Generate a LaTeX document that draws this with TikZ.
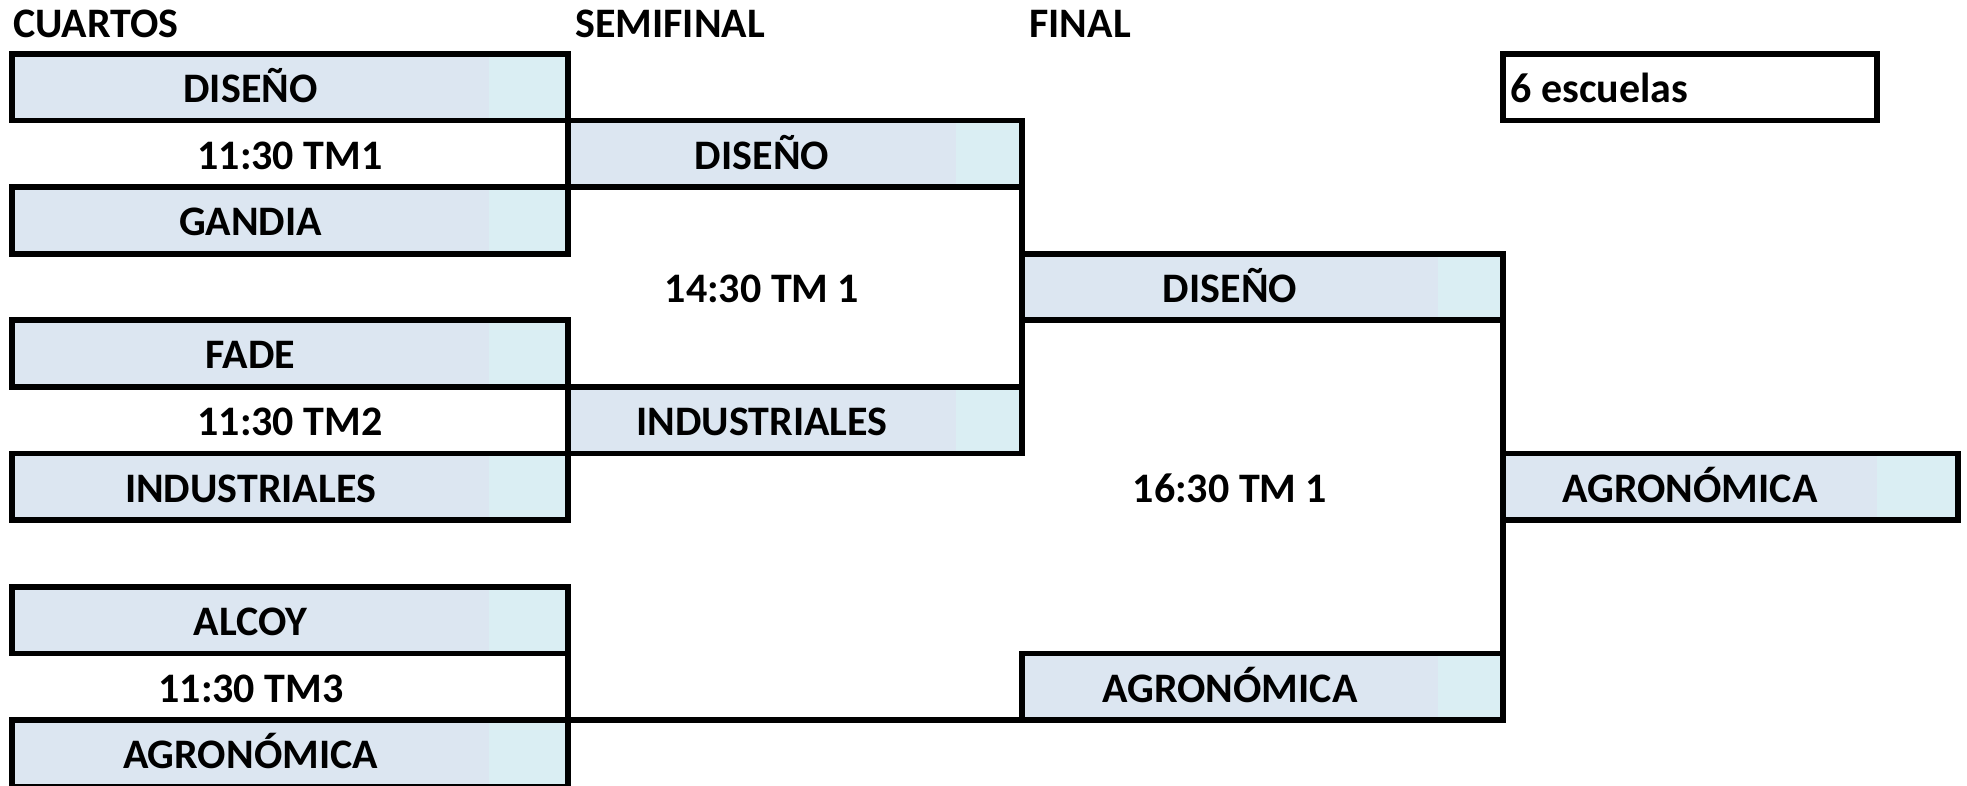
\documentclass[tikz,border=0pt]{standalone}
\usepackage{fontspec}
\setmainfont{Carlito}
\definecolor{cbox}{HTML}{DCE6F1}
\definecolor{cstrip}{HTML}{DAEEF3}
\begin{document}
\begin{tikzpicture}[x=0.5pt,y=-0.5pt,
  lbl/.style={font=\fontsize{21}{25}\selectfont\bfseries, inner sep=0pt, anchor=base},
  hdr/.style={lbl, anchor=base west},
  teambox/.style={draw, line width=2.9pt, fill=cbox, inner sep=0pt, outer sep=0pt,
    minimum height=33.3pt,
    path picture={\fill[cstrip] ([xshift=-#1]path picture bounding box.north east) rectangle (path picture bounding box.south east);}},
  plainbox/.style={draw, line width=2.9pt, fill=white, inner sep=0pt, outer sep=0pt, minimum height=33.3pt},
  conn/.style={line width=2.9pt, line cap=rect}]
\useasboundingbox (0,0) rectangle (1967,786);
% headers
\node[hdr] (hq) at (13,38) {CUARTOS};
\node[hdr] (hs) at (575,38) {SEMIFINAL};
\node[hdr] (hf) at (1029,38) {FINAL};
% quarter-final boxes
\node[teambox=39.5pt, minimum width=278pt] (q1) at (290,87.3) {};
\node[teambox=39.5pt, minimum width=278pt] (q2) at (290,220.5) {};
\node[teambox=39.5pt, minimum width=278pt] (q3) at (290,353.7) {};
\node[teambox=39.5pt, minimum width=278pt] (q4) at (290,486.9) {};
\node[teambox=39.5pt, minimum width=278pt] (q5) at (290,620.1) {};
\node[teambox=39.5pt, minimum width=278pt] (q6) at (290,753.3) {};
% semifinal boxes
\node[teambox=33pt, minimum width=227pt] (s1) at (795,153.9) {};
\node[teambox=33pt, minimum width=227pt] (s2) at (795,420.3) {};
% final boxes
\node[teambox=32.5pt, minimum width=240.5pt] (f1) at (1262.5,287.1) {};
\node[teambox=32.5pt, minimum width=240.5pt] (f2) at (1262.5,686.7) {};
% winner
\node[teambox=40.5pt, minimum width=227.5pt] (w) at (1730.5,486.9) {};
% note box
\node[plainbox, minimum width=187pt] (esc) at (1690,87.3) {};
% connectors
\draw[conn] (q1.north east) -- (q2.south east);
\draw[conn] (q3.north east) -- (q4.south east);
\draw[conn] (q5.north east) -- (q6.south east);
\draw[conn] (s1.north east) -- (s2.south east);
\draw[conn] (q6.north east) -- (f2.south west);
\draw[conn] (f1.north east) -- (f2.south east);
% texts
\node[lbl] (tq1) at (250.5,102.6) {DISEÑO};
\node[lbl] (tm1) at (290,169.2) {11:30 TM1};
\node[lbl] (tq2) at (250.5,235.8) {GANDIA};
\node[lbl] (tq3) at (250.5,369) {FADE};
\node[lbl] (tm2) at (290,435.6) {11:30 TM2};
\node[lbl] (tq4) at (250.5,502.2) {INDUSTRIALES};
\node[lbl] (tq5) at (250.5,635.4) {ALCOY};
\node[lbl] (tm3) at (251,702) {11:30 TM3};
\node[lbl] (tq6) at (250.5,768.6) {AGRONÓMICA};
\node[lbl] (ts1) at (762,169.2) {DISEÑO};
\node[lbl] (tsm) at (762,302.4) {14:30 TM 1};
\node[lbl] (ts2) at (762,435.6) {INDUSTRIALES};
\node[lbl] (tf1) at (1230,302.4) {DISEÑO};
\node[lbl] (tfm) at (1230,502.2) {16:30 TM 1};
\node[lbl] (tf2) at (1230,702) {AGRONÓMICA};
\node[lbl] (tw) at (1690,502.2) {AGRONÓMICA};
\node[hdr] (tesc) at (1510,102.6) {6 escuelas};
\end{tikzpicture}
\end{document}
